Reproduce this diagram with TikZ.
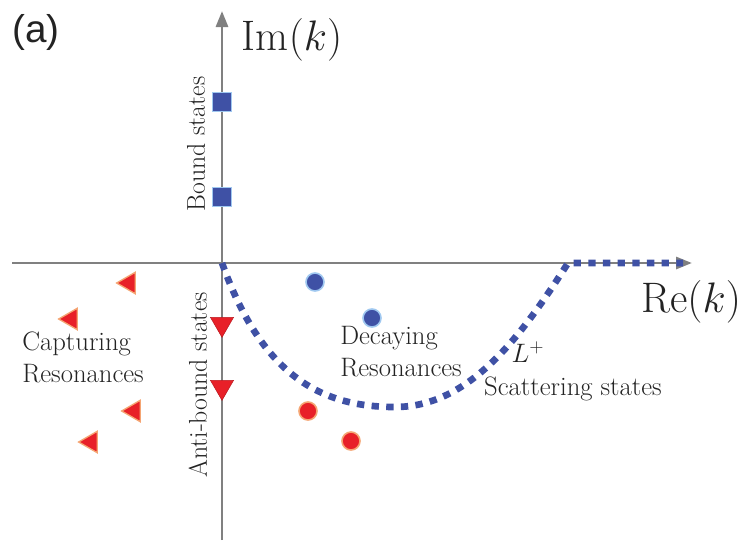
\RequirePackage{fix-cm}
\documentclass[tikz,border=0pt]{standalone}
\usepackage{fontspec}
\newfontfamily\labelfont{Liberation Sans}
\usetikzlibrary{shapes.geometric,arrows.meta}
\definecolor{axisgray}{RGB}{128,128,128}
\definecolor{dblue}{RGB}{63,81,165}
\definecolor{lblue}{RGB}{160,200,240}
\definecolor{dred}{RGB}{232,32,40}
\definecolor{lorange}{RGB}{245,165,115}
\definecolor{txt}{RGB}{35,35,35}
\tikzset{
  axis/.style={draw=axisgray,line width=2.2pt,-{Triangle[length=12pt,width=9pt]}},
  boundsq/.style={rectangle,fill=dblue,draw=lblue,line width=0.6pt,minimum size=14.5pt,inner sep=0pt},
  bluedot/.style={circle,fill=dblue,draw=lblue,line width=1.2pt,minimum size=13.5pt,inner sep=0pt},
  reddot/.style={circle,fill=dred,draw=lorange,line width=1.2pt,minimum size=13.5pt,inner sep=0pt},
  downtri/.style={regular polygon,regular polygon sides=3,shape border rotate=180,fill=dred,draw=dred!80!black,line width=0.4pt,minimum size=20pt,inner sep=0pt},
  lefttri/.style={regular polygon,regular polygon sides=3,shape border rotate=90,fill=dred,draw=lorange,line width=1pt,minimum size=18.5pt,inner sep=0pt},
  contour/.style={draw=dblue,line width=5pt,dash pattern=on 5.5pt off 5.5pt},
  biglbl/.style={font=\fontsize{32}{35}\selectfont,inner sep=0pt,text=txt},
  lbl/.style={font=\fontsize{20}{24}\selectfont,inner sep=0pt,align=left,text=txt},
  vlbl/.style={font=\fontsize{19.3}{22}\selectfont,inner sep=0pt,rotate=90,text=txt},
}
\begin{document}
\begin{tikzpicture}[x=0.75pt,y=-0.75pt]
\useasboundingbox (0,0) rectangle (742,540);
\coordinate (o) at (222,263);
\coordinate (xl) at (12,263);
\coordinate (xr) at (692,263);
\coordinate (yb) at (222,540);
\coordinate (yt) at (222,11);
\draw[axis] (xl) -- (xr);
\draw[axis] (yb) -- (yt);
\coordinate (cmin) at (395,407);
\coordinate (cup) at (568,263);
\coordinate (cend) at (683,263);
\draw[contour] (o) .. controls (262,375) and (320,407) .. (cmin) .. controls (470,407) and (522,335) .. (cup) -- (cend);
\node[inner sep=0pt,text=txt,font=\labelfont\fontsize{29}{32}\selectfont] (a) at (36,32) {(a)};
\node[biglbl] (im) at (292,40) {Im$(k)$};
\node[biglbl] (re) at (691,302) {Re$(k)$};
\node[boundsq] (b1) at (222,102) {};
\node[boundsq] (b2) at (222,197) {};
\node[vlbl] (bs) at (196,144) {Bound states};
\node[vlbl] (abs) at (198,385) {Anti-bound states};
\node[downtri] (ab1) at (222,324) {};
\node[downtri] (ab2) at (222,387) {};
\node[bluedot] (d1) at (315,282) {};
\node[bluedot] (d2) at (372,318) {};
\node[reddot] (c1) at (308,411) {};
\node[reddot] (c2) at (351,441) {};
\node[lefttri] (t1) at (129,283) {};
\node[lefttri] (t2) at (71,319) {};
\node[lefttri] (t3) at (134,411) {};
\node[lefttri] (t4) at (91,442) {};
\node[lbl] (cap) at (83,357) {Capturing\\Resonances};
\node[lbl] (dec) at (401,352) {Decaying\\Resonances};
\node[lbl] (lp) at (528,352) {$L^{+}$};
\node[lbl] (sc) at (573,389) {Scattering states};
\end{tikzpicture}
\end{document}
